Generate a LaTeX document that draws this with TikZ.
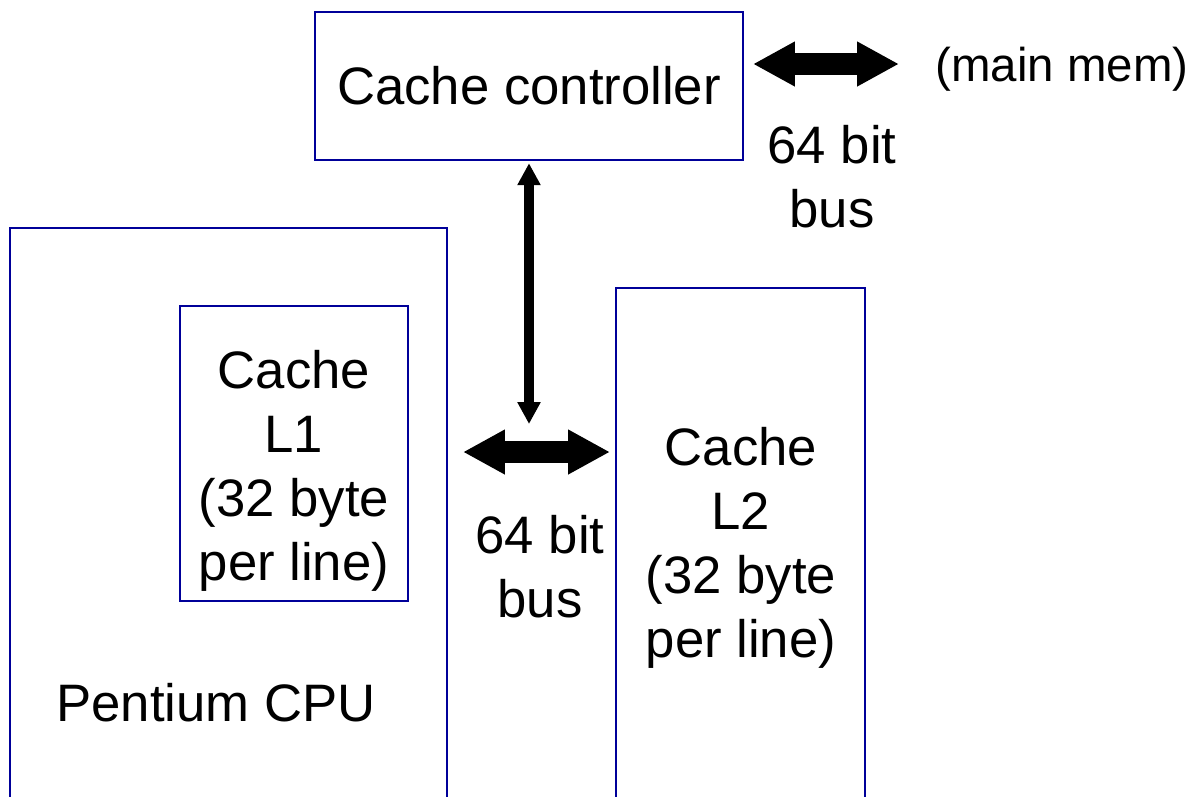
\documentclass[tikz,border=0pt]{standalone}
\usepackage{fontspec}
\setmainfont{Liberation Sans}
\usetikzlibrary{arrows.meta}
\definecolor{boxblue}{RGB}{0,0,153}
\tikzset{
  box/.style={draw=boxblue, line width=0.05cm, inner sep=0pt},
  txt/.style={align=center, inner sep=0pt, font=\fontsize{30}{36.4}\selectfont},
  fatbus/.style={line width=0.44cm, {Triangle[length=0.84cm,width=0.84cm]}-{Triangle[length=0.84cm,width=0.84cm]}},
  thinbus/.style={line width=0.2cm, {Triangle[length=0.44cm,width=0.44cm]}-{Triangle[length=0.44cm,width=0.44cm]}},
}
\begin{document}
\begin{tikzpicture}[x=0.02cm, y=-0.02cm]
  \clip (0,0) rectangle (1204,796);

  % boxes
  \node[box, txt, minimum width=8.56cm, minimum height=2.96cm] (ctrl) at (529,86) {Cache controller};
  \node[box, minimum width=8.74cm, minimum height=11.84cm] (cpu) at (228.5,524) {};
  \node[box, minimum width=4.56cm, minimum height=5.9cm] (l1) at (294,453.5) {};
  \node[box, minimum width=4.98cm, minimum height=10.64cm] (l2) at (740.5,554) {};

  % texts
  \node[txt] (l1txt) at (294,471) {Cache\\L1\\(32 byte\\per line)};
  \node[txt] (l2txt) at (741,548) {Cache\\L2\\(32 byte\\per line)};
  \node[txt] (cputxt) at (216,703) {Pentium CPU};
  \node[txt, font=\fontsize{27}{32}\selectfont] (mem) at (1062,69) {(main mem)};
  \node[txt] (topbus) at (832,177) {64 bit\\bus};
  \node[txt] (lowbus) at (540,567) {64 bit\\bus};

  % buses
  \coordinate (memleft) at (753,64);
  \coordinate (memright) at (899,64);
  \coordinate (cpuport) at (463,452);
  \coordinate (l2port) at (610,452);
  \coordinate (join) at (529,424);
  \draw[fatbus] (memleft) -- (memright);
  \draw[fatbus] (cpuport) -- (l2port);
  \draw[thinbus] ([yshift=-0.04cm]ctrl.south) -- (join);
\end{tikzpicture}
\end{document}
